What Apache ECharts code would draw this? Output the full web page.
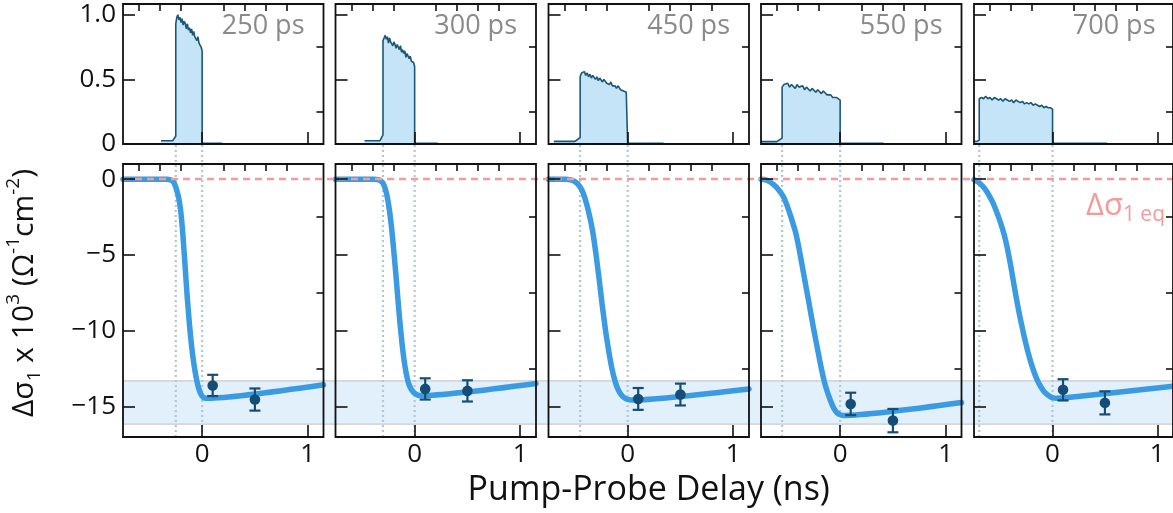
<!DOCTYPE html>
<html><head><meta charset="utf-8">
<script src="https://cdn.jsdelivr.net/npm/echarts@6/dist/echarts.min.js"></script>
<style>html,body{margin:0;padding:0;background:#fff}#c{width:1173px;height:513px}</style>
</head><body><div id="c"></div>
<script>
// ---------- data ----------
const panelLabels = ['250 ps', '300 ps', '450 ps', '550 ps', '700 ps'];
const pulseStart = [-0.25, -0.30, -0.45, -0.55, -0.70];
const baselineStart = [-0.39, -0.475, -0.70, -0.75, -0.75];
const rampStart = [-0.28, -0.33, -0.50, -0.60, -0.72];
const baseY = [0.025, 0.025, 0.02, 0.018, 0.02];
const preY = [0.06, 0.07, 0.05, 0.045, 0.03];
const tailEnd = [0.19, 0.22, 0.34, 0.41, 0.52];
const tailY = 0.006;

const pulse250 = [0.93, 0.98, 1.0, 0.96, 0.98, 0.94, 0.97, 0.92, 0.95, 0.93, 0.89, 0.93, 0.88, 0.9, 0.86, 0.89, 0.84, 0.87, 0.83, 0.82, 0.8, 0.83, 0.78, 0.77, 0.75, 0.72];
const pulse300 = [0.8, 0.82, 0.84, 0.81, 0.83, 0.78, 0.82, 0.79, 0.8, 0.76, 0.79, 0.77, 0.74, 0.77, 0.75, 0.73, 0.76, 0.71, 0.73, 0.7, 0.72, 0.67, 0.7, 0.68, 0.66, 0.68, 0.64, 0.65, 0.63, 0.6];
const pulse450 = [0.52, 0.55, 0.54, 0.56, 0.53, 0.55, 0.52, 0.54, 0.51, 0.53, 0.52, 0.5, 0.52, 0.49, 0.51, 0.5, 0.48, 0.5, 0.49, 0.47, 0.48, 0.46, 0.48, 0.45, 0.46, 0.45, 0.43, 0.45, 0.44, 0.42, 0.43, 0.41, 0.42, 0.4, 0.39];
const pulse550 = [0.44, 0.46, 0.45, 0.47, 0.44, 0.46, 0.45, 0.43, 0.46, 0.44, 0.43, 0.45, 0.42, 0.44, 0.43, 0.41, 0.43, 0.42, 0.4, 0.42, 0.41, 0.39, 0.41, 0.4, 0.38, 0.39, 0.38, 0.36, 0.37, 0.36, 0.35, 0.34];
const pulse700 = [0.35, 0.36, 0.35, 0.37, 0.35, 0.36, 0.34, 0.36, 0.35, 0.34, 0.35, 0.33, 0.35, 0.34, 0.33, 0.34, 0.32, 0.34, 0.33, 0.32, 0.33, 0.31, 0.32, 0.31, 0.32, 0.3, 0.31, 0.3, 0.29, 0.3, 0.28, 0.29, 0.28, 0.28, 0.27];

const fit250 = [[-0.75, 0], [-0.33, 0], [-0.30, -0.05], [-0.28, -0.12], [-0.26, -0.35], [-0.24, -0.75], [-0.22, -1.3], [-0.20, -2.3], [-0.18, -3.9], [-0.16, -5.9], [-0.14, -7.9], [-0.12, -9.6], [-0.10, -11.0], [-0.08, -12.1], [-0.06, -12.95], [-0.04, -13.6], [-0.02, -14.05], [0.0, -14.3], [0.02, -14.42], [0.05, -14.45], [1.15, -13.56]];
const fit300 = [[-0.75, 0], [-0.38, 0], [-0.34, -0.05], [-0.32, -0.12], [-0.30, -0.26], [-0.28, -0.6], [-0.26, -1.15], [-0.24, -2.0], [-0.22, -3.1], [-0.20, -4.55], [-0.18, -6.1], [-0.16, -7.8], [-0.14, -9.4], [-0.12, -10.8], [-0.10, -11.95], [-0.08, -12.8], [-0.06, -13.4], [-0.04, -13.75], [-0.02, -13.98], [0.0, -14.12], [0.03, -14.24], [0.06, -14.27], [1.15, -13.47]];
const fit450 = [[-0.75, 0], [-0.58, 0], [-0.54, -0.05], [-0.51, -0.12], [-0.48, -0.27], [-0.45, -0.52], [-0.42, -0.95], [-0.39, -1.6], [-0.36, -2.45], [-0.33, -3.5], [-0.30, -4.95], [-0.27, -6.6], [-0.24, -8.35], [-0.21, -9.95], [-0.18, -11.3], [-0.15, -12.45], [-0.12, -13.3], [-0.09, -13.88], [-0.06, -14.22], [-0.03, -14.42], [0.0, -14.52], [0.04, -14.56], [1.15, -13.83]];
const fit550 = [[-0.75, 0], [-0.72, -0.02], [-0.69, -0.09], [-0.66, -0.2], [-0.63, -0.36], [-0.60, -0.56], [-0.57, -0.82], [-0.54, -1.13], [-0.51, -1.6], [-0.48, -2.2], [-0.45, -2.85], [-0.42, -3.57], [-0.39, -4.55], [-0.36, -5.7], [-0.33, -6.85], [-0.30, -7.98], [-0.27, -9.15], [-0.24, -10.28], [-0.21, -11.35], [-0.18, -12.42], [-0.15, -13.35], [-0.12, -14.05], [-0.09, -14.62], [-0.06, -15.1], [-0.03, -15.4], [0.0, -15.53], [0.04, -15.58], [1.15, -14.73]];
const fit700 = [[-0.75, -0.04], [-0.72, -0.15], [-0.69, -0.3], [-0.66, -0.52], [-0.63, -0.8], [-0.60, -1.15], [-0.57, -1.55], [-0.54, -2.05], [-0.51, -2.6], [-0.48, -3.23], [-0.45, -3.98], [-0.42, -4.95], [-0.39, -6.08], [-0.36, -7.3], [-0.33, -8.43], [-0.30, -9.45], [-0.27, -10.4], [-0.24, -11.25], [-0.21, -12.0], [-0.18, -12.65], [-0.15, -13.18], [-0.12, -13.6], [-0.09, -13.92], [-0.06, -14.15], [-0.03, -14.3], [0.0, -14.4], [0.04, -14.44], [0.1, -14.43], [1.15, -13.65]];

const pointX = [0.1, 0.5];
const points250 = [-13.6, -14.53], err250 = [0.7, 0.73];
const points300 = [-13.83, -13.96], err300 = [0.7, 0.7];
const points450 = [-14.49, -14.2], err450 = [0.72, 0.72];
const points550 = [-14.82, -15.92], err550 = [0.74, 0.77];
const points700 = [-13.89, -14.75], err700 = [0.7, 0.76];

const bandRange = [-16.15, -13.3];
const eqLevel = 0;

const xRange = [-0.75, 1.15];
const xTickMajor = [0, 1];
const xTickMinor = [-0.6, -0.4, -0.2, 0.2, 0.4, 0.6, 0.8];
const topYRange = [0, 1.083];
const topYMajor = [0, 0.5, 1.0];
const topYMinor = [0.25, 0.75];
const topYLabels = ['0', '0.5', '1.0'];
const botYRange = [-17, 1];
const botYMajor = [0, -5, -10, -15];
const botYMinor = [-2.5, -7.5, -12.5];

const pulses = [pulse250, pulse300, pulse450, pulse550, pulse700];
const fits = [fit250, fit300, fit450, fit550, fit700];
const pts = [points250, points300, points450, points550, points700];
const errs = [err250, err300, err450, err550, err700];

// ---------- layout / style ----------
const F = 'Open Sans';
const L = [123, 335.5, 548.5, 761, 974];
const W = 200.5;
const TOP_TOP = 4, TOP_H = 140, BOT_TOP = 164, BOT_H = 273;
const GAP = BOT_TOP - (TOP_TOP + TOP_H);
const CW = 1173;
const INK = '#111';
const PULSE_LINE = '#1b5878', PULSE_FILL = '#c6e4f8';
const FIT_COL = '#3a9be2', PT_COL = '#144e78';
const DOT_COL = '#b0c7d5';

const grid = [], xAxis = [], yAxis = [], series = [], title = [];

function minusFmt(v) { return v < 0 ? '\u2212' + Math.abs(v) : String(v); }

function axisPair(arr, g, dim, range, major, minor, showLabel, fmt, extra) {
  const base = {
    gridIndex: g, type: 'value', min: range[0], max: range[1],
    axisLine: { show: false, onZero: false }, splitLine: { show: false }, z: 10
  };
  arr.push(Object.assign({}, base, {
    axisTick: { show: true, inside: true, length: 12, customValues: major, lineStyle: { color: INK, width: 1.6 } },
    axisLabel: { show: showLabel, customValues: major, formatter: fmt, fontSize: 26, color: INK, fontFamily: F, margin: dim === 'x' ? 5 : 7 }
  }, extra || {}));
  arr.push(Object.assign({}, base, {
    axisTick: { show: true, inside: true, length: 7, customValues: minor, lineStyle: { color: INK, width: 1.6 } },
    axisLabel: { show: false }
  }));
}

for (let i = 0; i < 5; i++) {
  const gt = 2 * i, gb = 2 * i + 1;
  grid.push({ left: L[i], top: TOP_TOP, width: W, height: TOP_H, show: true, borderColor: INK, borderWidth: 1.8, backgroundColor: 'transparent', z: 10 });
  grid.push({ left: L[i], top: BOT_TOP, width: W, height: BOT_H, show: true, borderColor: INK, borderWidth: 1.8, backgroundColor: 'transparent', z: 10 });

  axisPair(xAxis, gt, 'x', xRange, xTickMajor, xTickMinor, false, v => String(v));
  axisPair(yAxis, gt, 'y', topYRange, topYMajor, topYMinor, i === 0, v => topYLabels[topYMajor.indexOf(v)] || String(v));
  const xExtra = i === 2 ? { name: 'Pump-Probe Delay (ns)', nameLocation: 'middle', nameGap: 34, nameTextStyle: { fontSize: 34, color: INK, fontFamily: F } } : {};
  axisPair(xAxis, gb, 'x', xRange, xTickMajor, xTickMinor, true, v => String(v), xExtra);
  axisPair(yAxis, gb, 'y', botYRange, botYMajor, botYMinor, i === 0, minusFmt);

  const tx = 4 * i, bx = 4 * i + 2;

  // pulse (top row)
  const p = pulses[i], s = pulseStart[i];
  const pd = [[baselineStart[i], baseY[i]], [rampStart[i], baseY[i]], [s, preY[i]]];
  p.forEach((v, k) => pd.push([s + (k / (p.length - 1)) * (0 - s), v]));
  pd.push([0, tailY], [tailEnd[i], tailY]);
  series.push({
    type: 'line', xAxisIndex: tx, yAxisIndex: tx, data: pd, showSymbol: false, z: 3, silent: true,
    lineStyle: { color: PULSE_LINE, width: 1.6 }, areaStyle: { color: PULSE_FILL, opacity: 1 }
  });

  // vertical dotted markers (bottom row, extended into the gap)
  series.push({
    type: 'custom', xAxisIndex: bx, yAxisIndex: bx, clip: false, z: 2, silent: true,
    data: [[pulseStart[i], 0], [0, 0]],
    renderItem: (params, api) => {
      const x = api.value(0);
      const a = api.coord([x, botYRange[0]]), b = api.coord([x, botYRange[1]]);
      return { type: 'line', shape: { x1: a[0], y1: a[1], x2: b[0], y2: b[1] - GAP }, style: { stroke: DOT_COL, lineWidth: 2.2, lineDash: [2, 3] } };
    }
  });

  // fit curve
  series.push({
    type: 'line', xAxisIndex: bx, yAxisIndex: bx, data: fits[i], showSymbol: false, smooth: 0.2, z: 4, silent: true,
    lineStyle: { color: FIT_COL, width: 5.5, join: 'round', cap: 'round' }
  });

  // data points with error bars
  series.push({
    type: 'custom', xAxisIndex: bx, yAxisIndex: bx, z: 5, silent: true,
    data: pointX.map((x, k) => [x, pts[i][k], errs[i][k]]),
    renderItem: (params, api) => {
      const x = api.value(0), y = api.value(1), e = api.value(2);
      const c = api.coord([x, y]), t = api.coord([x, y + e]), b = api.coord([x, y - e]);
      const hw = 5.5, st = { stroke: PT_COL, lineWidth: 2.2 };
      return { type: 'group', children: [
        { type: 'line', shape: { x1: c[0], y1: t[1], x2: c[0], y2: b[1] }, style: st },
        { type: 'line', shape: { x1: c[0] - hw, y1: t[1], x2: c[0] + hw, y2: t[1] }, style: st },
        { type: 'line', shape: { x1: c[0] - hw, y1: b[1], x2: c[0] + hw, y2: b[1] }, style: st },
        { type: 'circle', shape: { cx: c[0], cy: c[1], r: 5.3 }, style: { fill: PT_COL } }
      ] };
    }
  });

  title.push({
    text: panelLabels[i], right: CW - (L[i] + W) + 14, top: 8,
    textStyle: { fontSize: 27, fontWeight: 'normal', color: '#8a8a8a', fontFamily: F }
  });
}

// overlay grid for the band and equilibrium line spanning all bottom panels
grid.push({ left: L[0], top: BOT_TOP, width: L[4] + W - L[0], height: BOT_H, show: false });
xAxis.push({ gridIndex: 10, type: 'value', min: 0, max: 1, show: false });
yAxis.push({ gridIndex: 10, type: 'value', min: botYRange[0], max: botYRange[1], show: false });
series.push({
  type: 'line', xAxisIndex: 20, yAxisIndex: 20, data: [], z: 1, silent: true,
  markArea: {
    silent: true,
    itemStyle: { color: '#e1f0fb', opacity: 1, borderColor: '#cacaca', borderWidth: 1.2 },
    data: [[{ yAxis: bandRange[1] }, { yAxis: bandRange[0] }]]
  },
  markLine: {
    silent: true, symbol: 'none',
    lineStyle: { color: '#f79a9a', type: [7, 5], width: 2.4, opacity: 1 },
    label: {
      show: true, position: 'insideEndBottom', distance: [8, 8],
      formatter: '{a|Δσ}{b|1 eq}',
      rich: {
        a: { fontSize: 31, color: '#f59a9a', fontFamily: F, lineHeight: 38 },
        b: { fontSize: 21, color: '#f59a9a', fontFamily: F, lineHeight: 21, verticalAlign: 'bottom' }
      }
    },
    data: [{ yAxis: eqLevel }]
  }
});

const chart = echarts.init(document.getElementById('c'), null, { renderer: 'canvas' });
chart.setOption({
  animation: false,
  backgroundColor: '#fff',
  title: title,
  grid: grid, xAxis: xAxis, yAxis: yAxis, series: series,
  graphic: [{
    type: 'text', x: 24, y: 293, rotation: Math.PI / 2, z: 20,
    style: {
      text: '{b|Δσ}{sub|1}{b| x 10}{sup|3}{b| (Ω}{sup|-1}{b|cm}{sup|-2}{b|)}',
      align: 'center', verticalAlign: 'middle',
      rich: {
        b: { fontSize: 30, lineHeight: 40, fontFamily: F, fill: INK },
        sub: { fontSize: 19, lineHeight: 19, fontFamily: F, fill: INK, verticalAlign: 'bottom' },
        sup: { fontSize: 19, lineHeight: 19, fontFamily: F, fill: INK, verticalAlign: 'top' }
      }
    }
  }]
});
</script></body></html>
